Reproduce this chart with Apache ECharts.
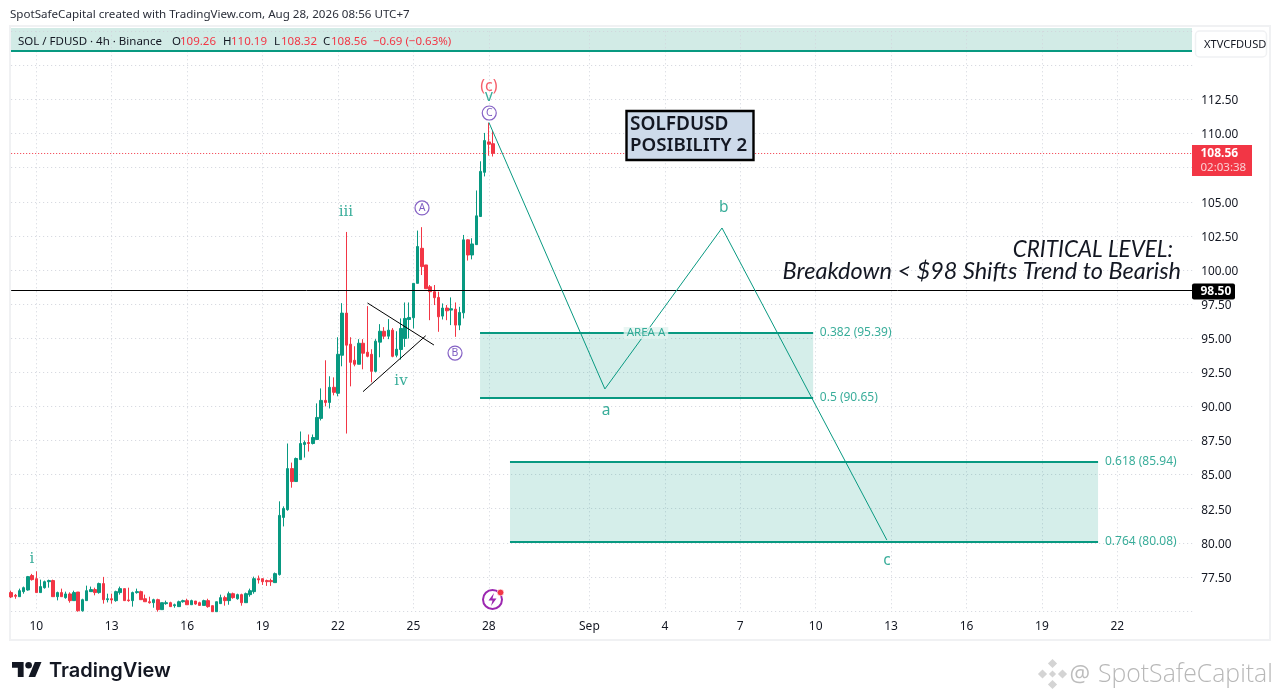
<!DOCTYPE html>
<html><head><meta charset="utf-8">
<style>html,body{margin:0;padding:0;background:#fff}#c{width:1281px;height:700px}</style>
<script src="https://cdn.jsdelivr.net/npm/echarts@6/dist/echarts.min.js"></script>
</head><body><div id="c"></div>
<script>
// Bars are indexed from the 10th of August, 00:00 (4h bars, 6 per day). Rows: open, close, low, high
const firstIndex = -6, lastIndex = 276;
const candles = [
[76.35,76.03,75.95,76.49],[76.15,76.08,75.90,76.25],[76.05,76.49,76.05,76.64],[76.42,76.71,76.27,76.79],
[76.54,77.52,76.49,77.57],[77.60,77.30,77.23,77.72],[77.37,76.35,76.35,77.91],[76.35,76.79,76.35,77.30],
[76.71,77.15,76.64,77.23],[77.15,77.23,76.71,77.30],[77.23,76.05,76.05,77.30],[76.05,76.35,75.78,76.42],
[76.35,76.05,76.05,76.64],[75.98,76.25,75.90,76.42],[76.25,75.76,75.61,76.37],[75.76,76.35,75.76,76.49],
[76.39,75.02,74.95,76.39],[75.02,75.83,74.95,75.90],[75.76,76.49,75.76,76.86],[76.42,76.57,76.42,76.79],
[76.57,76.35,76.15,76.71],[76.35,77.01,76.27,77.08],[77.01,75.83,75.54,77.50],[75.83,75.90,75.63,76.27],
[75.90,75.81,75.54,76.27],[75.76,76.42,75.68,76.49],[76.35,76.64,76.20,76.79],[76.64,75.76,75.76,76.64],
[75.81,75.76,75.68,76.71],[75.76,76.35,75.32,76.42],[76.35,76.42,76.27,76.64],[76.42,75.83,75.83,76.49],
[75.90,75.68,75.68,76.20],[75.68,75.61,75.54,76.05],[75.61,75.83,75.24,75.90],[75.83,75.10,74.95,75.90],
[75.10,75.61,75.10,75.61],[75.54,75.61,75.46,75.76],[75.61,75.32,75.32,75.68],[75.39,75.46,75.24,75.54],
[75.32,75.68,75.32,75.76],[75.68,75.76,75.61,75.83],[75.76,75.46,75.46,75.90],[75.46,75.76,75.46,75.83],
[75.73,75.51,75.46,75.73],[75.61,75.41,75.41,75.68],[75.41,75.76,75.41,75.83],[75.76,75.32,75.24,75.90],
[75.39,74.95,74.95,75.39],[74.95,75.68,74.95,75.68],[75.54,75.98,75.54,76.20],[75.98,75.76,75.39,76.12],
[75.76,76.27,75.46,76.42],[76.27,75.98,75.90,76.35],[75.90,76.20,75.83,76.27],[76.20,75.61,75.39,76.27],
[75.61,76.27,75.61,76.35],[76.20,76.49,76.05,76.64],[76.42,77.37,76.27,77.52],[77.37,77.28,77.01,77.60],
[77.37,77.15,76.91,77.37],[77.23,77.15,76.84,77.30],[77.23,77.15,76.84,77.37],[77.08,77.74,77.08,77.82],
[77.67,82.01,77.60,83.04],[81.86,82.52,81.20,82.67],[82.43,85.44,82.35,87.28],[85.44,84.49,84.04,85.88],
[84.49,86.18,84.49,86.25],[86.10,87.28,86.10,88.16],[87.21,87.35,86.25,87.50],[87.35,87.28,86.69,87.94],
[87.28,87.72,87.21,87.94],[87.57,89.19,87.57,90.22],[89.12,90.44,88.97,91.32],[90.44,90.29,90.00,93.38],
[90.29,91.40,89.85,92.21],[91.40,91.03,90.81,92.13],[90.96,93.82,90.74,95.07],[93.75,96.84,92.94,97.57],
[96.84,94.49,88.01,102.79],[94.56,93.23,91.47,95.07],[93.38,93.09,92.94,94.41],[93.09,94.63,93.09,94.93],
[94.63,93.90,92.72,94.93],[93.97,93.67,93.60,97.35],[93.82,92.57,91.77,94.19],[92.57,94.78,92.50,94.93],
[94.71,95.51,93.60,96.03],[95.51,95.15,94.93,95.81],[95.15,95.59,94.93,96.40],[95.59,93.67,93.60,95.74],
[93.75,94.19,93.60,95.51],[94.17,95.71,93.43,96.45],[94.98,96.45,94.36,97.62],[96.37,96.52,94.98,97.62],
[96.50,99.02,95.71,99.02],[99.02,101.72,99.02,102.89],[101.59,100.25,99.63,103.14],[100.37,98.63,98.63,100.37],
[98.77,98.41,96.32,98.90],[98.41,97.97,97.43,98.90],[97.99,96.57,95.47,98.41],[96.62,97.21,96.37,97.55],
[97.21,97.01,96.32,97.43],[97.06,97.16,95.96,97.99],[97.13,95.96,95.10,97.62],[95.96,96.89,95.59,97.30],
[96.86,102.21,96.45,102.57],[102.21,101.10,100.69,102.25],[101.10,101.91,100.78,102.33],[101.86,103.97,101.86,105.83],
[103.92,107.23,103.92,107.97],[107.16,109.49,106.86,110.05],[109.39,109.22,108.38,110.78],[109.26,108.56,108.32,110.19]
];
const categories = [];
for (let i = firstIndex; i <= lastIndex; i++) categories.push(i);
const dayTicks = {0:'10',18:'13',36:'16',54:'19',72:'22',90:'25',108:'28',132:'Sep',150:'4',168:'7',186:'10',204:'13',222:'16',240:'19',258:'22'};
const lastPrice = 108.56, criticalPrice = 98.50;
const hiddenPriceTicks = [75, 115, 117.5];
const wavePath = [[108.0,110.83],[135.7,91.28],[163.65,103.08],[203.0,80.2]];
const triangleTop = [[79.05,97.58],[94.9,94.50]];
const triangleBottom = [[77.97,91.08],[92.94,95.18]];
const zones = [
  {from:105.9,to:185.4,top:95.39,bottom:90.65,topLabel:'0.382 (95.39)',bottomLabel:'0.5 (90.65)',labelAt:187.0},
  {from:113.05,to:253.4,top:85.94,bottom:80.08,topLabel:'0.618 (85.94)',bottomLabel:'0.764 (80.08)',labelAt:255.05}
];
const serifLabels = [['i',-1.03,78.81],['iii',73.9,104.25],['iv',87.04,91.86]];
const sansLabels = [['a',135.97,89.66],['b',164.1,104.55],['c',203,78.67],['v',108,112.68]];
const cycleLabels = [['A',92.05,104.55],['B',99.93,93.91],['C',108.1,111.51]];

const TEAL='#089981', RED='#f23645', UI='"Noto Sans",sans-serif', ANN='Lato,"Noto Sans",sans-serif';
const fibLabels=[]; const fibLines=[]; const fibAreas=[];
zones.forEach(z=>{
  fibAreas.push([{xAxis:z.from,yAxis:z.top},{xAxis:z.to,yAxis:z.bottom}]);
  fibLines.push([{coord:[z.from,z.top]},{coord:[z.to,z.top]}]);
  fibLines.push([{coord:[z.from,z.bottom]},{coord:[z.to,z.bottom]}]);
  fibLabels.push({value:[z.labelAt,z.top],name:z.topLabel});
  fibLabels.push({value:[z.labelAt,z.bottom],name:z.bottomLabel});
});
const T=(text,x,y,font,fill,extra)=>({type:'text',silent:true,z:20,style:Object.assign({text,x,y,font,fill,textVerticalAlign:'middle'},extra||{})});
const R=(x,y,w,h,fill,extra)=>Object.assign({type:'rect',silent:true,shape:{x,y,width:w,height:h},style:{fill}},extra||{});
const uiFont='11.5px '+UI;
const P=(points,fill,z)=>({type:'polygon',silent:true,z:z||20,shape:{points},style:{fill}});
const diamond=(cx,cy,r,fill)=>P([[cx,cy-r],[cx+r,cy],[cx,cy+r],[cx-r,cy]],fill);

const graphics=[
  R(10,26,1260,614,'none',{z:-5,style:{fill:'none',stroke:'#f0f1f3',lineWidth:2}}),
  R(11,28,1181,23,'#d2ebe6',{z:-4}),
  R(11,50,1181,2,TEAL,{z:5}),
  T('SpotSafeCapital created with TradingView.com, Aug 28, 2026 08:56 UTC+7',10,14.5,'11.6px '+UI,'#2a2e39'),
  T('SOL / FDUSD · 4h · Binance',18,42,uiFont,'#131722'),
  T('O',172,42,uiFont,'#131722'),T('109.26',180,42,uiFont,RED),
  T('H',223,42,uiFont,'#131722'),T('110.19',231,42,uiFont,RED),
  T('L',274,42,uiFont,'#131722'),T('108.32',281,42,uiFont,RED),
  T('C',323,42,uiFont,'#131722'),T('108.56',331,42,uiFont,RED),
  T('−0.69 (−0.63%)',373,42,uiFont,RED),
  {type:'rect',silent:true,z:10,shape:{x:1195.5,y:31,width:71,height:26,r:4},style:{fill:'#fff',stroke:'#f0f1f3',lineWidth:1.5}},
  T('XTVCFDUSD',1204,44.5,'11.1px '+UI,'#131722'),
  R(1192,145,60,31,RED,{z:15}),
  T('108.56',1200.5,154,'bold 12px '+UI,'#fff'),
  T('02:03:38',1200.5,168,'11.5px '+UI,'#fbd0d4'),
  {type:'rect',silent:true,z:15,shape:{x:1192,y:283.5,width:43,height:16,r:2},style:{fill:'#000'}},
  T('98.50',1200.5,292,'bold 12px '+UI,'#fff'),
  {type:'rect',silent:true,z:15,shape:{x:626.5,y:111,width:127,height:49},style:{fill:'#cddaea',stroke:'#000',lineWidth:2.4}},
  T('SOLFDUSD',630,125,'600 19px '+UI,'#131722'),
  T('POSIBILITY 2',630,145.5,'600 18.7px '+UI,'#131722'),
  T('CRITICAL LEVEL:',1173,250,'italic 22.4px '+ANN,'#131722',{textAlign:'right'}),
  T('Breakdown < $98 Shifts Trend to Bearish',1181,271,'italic 23.5px '+ANN,'#131722',{textAlign:'right'}),
  // event marker
  {type:'circle',silent:true,z:20,shape:{cx:492.5,cy:599.5,r:9.5},style:{fill:'#fff',stroke:'#9c27b0',lineWidth:2}},
  P([[494,593],[488.5,600.5],[492.5,600.5],[491,606],[496.5,598.5],[492.5,598.5]],'#9c27b0'),
  {type:'circle',silent:true,z:21,shape:{cx:500.5,cy:592.5,r:3.3},style:{fill:RED,stroke:'#fff',lineWidth:.6}},
  // TradingView wordmark
  P([[23.62,677],[17.81,677],[17.81,667.83],[12,667.83],[12,662],[23.62,662]],'#131722'),
  P([[35.24,677],[28.6,677],[34.83,662],[41.47,662]],'#131722'),
  {type:'circle',silent:true,z:20,shape:{cx:28.6,cy:665.3,r:3.3},style:{fill:'#131722'}},
  T('TradingView',49,670.5,'600 20px Inter,'+UI,'#131722'),
  // repost watermark
  diamond(1052.5,663.5,4.6,'#d4d4d4'),diamond(1042.5,674,4.6,'#d4d4d4'),diamond(1062.5,674,4.6,'#d4d4d4'),diamond(1052.5,684.5,4.6,'#d4d4d4'),diamond(1052.5,674,3.6,'#d4d4d4'),
  T('@',1069.5,675,'23px "Open Sans"','#bdbdbd'),
  T('SpotSafeCapital',1098,675,'300 24.8px "Open Sans"','#b8b8b8')
];

const chart=echarts.init(document.getElementById('c'));
const gridDots={color:'#d1d4dc',type:[1,3],width:1};
chart.setOption({
  animation:false,
  textStyle:{fontFamily:UI},
  grid:{left:11.16,top:31.3,width:1181.6,height:579.7},
  xAxis:[
    {type:'category',data:categories,boundaryGap:false,
     axisLine:{show:false},axisTick:{show:false},
     axisLabel:{margin:9.5,fontSize:12,color:'#131722',fontFamily:UI,
       interval:(i,v)=>dayTicks[v]!==undefined,formatter:v=>dayTicks[v]||''},
     splitLine:{show:true,interval:(i,v)=>dayTicks[categories[i]]!==undefined,lineStyle:gridDots}},
    {type:'value',min:firstIndex,max:lastIndex,show:false,splitLine:{show:false}}
  ],
  yAxis:{type:'value',position:'right',min:75,max:117.5,interval:2.5,scale:true,
    axisLine:{show:false},axisTick:{show:false},
    axisLabel:{margin:8.5,fontSize:11.8,color:'#131722',fontFamily:UI,align:'left',
      rich:{p:{fontSize:11.8,color:'#131722',fontFamily:UI,padding:[3,0,0,0]}},
      formatter:v=>hiddenPriceTicks.includes(v)?'':'{p|'+v.toFixed(2)+'}'},
    splitLine:{show:true,lineStyle:gridDots}},
  series:[
    {type:'candlestick',name:'SOL / FDUSD',xAxisIndex:0,data:candles,barWidth:3,clip:false,z:3,
     itemStyle:{color:TEAL,color0:RED,borderColor:TEAL,borderColor0:RED,borderWidth:1},
     markLine:{silent:true,symbol:'none',animation:false,data:[
       {yAxis:lastPrice,label:{show:false},lineStyle:{color:RED,type:[1,2],width:1}},
       {yAxis:criticalPrice,label:{show:false},lineStyle:{color:'#000',type:'solid',width:1}}
     ]}},
    {type:'line',name:'wave',xAxisIndex:1,data:wavePath,symbol:'none',silent:true,z:6,clip:false,
     lineStyle:{color:TEAL,width:1},
     markArea:{silent:true,itemStyle:{color:'rgba(8,153,129,0.17)'},data:fibAreas},
     markLine:{silent:true,symbol:'none',label:{show:false},lineStyle:{color:TEAL,width:2,type:'solid'},data:fibLines}},
    {type:'line',name:'triangleTop',xAxisIndex:1,data:triangleTop,symbol:'none',silent:true,z:7,lineStyle:{color:'#000',width:1}},
    {type:'line',name:'triangleBottom',xAxisIndex:1,data:triangleBottom,symbol:'none',silent:true,z:7,lineStyle:{color:'#000',width:1}},
    {type:'scatter',name:'wave labels serif',xAxisIndex:1,symbolSize:0,silent:true,z:8,clip:false,
     data:serifLabels.map(d=>({name:d[0],value:[d[1],d[2]]})),
     label:{show:true,position:'inside',formatter:'{b}',color:TEAL,fontSize:15,fontFamily:'"DejaVu Serif","Liberation Serif",serif'}},
    {type:'scatter',name:'wave labels sans',xAxisIndex:1,symbolSize:0,silent:true,z:8,clip:false,
     data:sansLabels.map(d=>({name:d[0],value:[d[1],d[2]]})),
     label:{show:true,position:'inside',formatter:'{b}',color:TEAL,fontSize:15.5,fontFamily:UI}},
    {type:'scatter',name:'corrective labels',xAxisIndex:1,symbol:'circle',symbolSize:14,silent:true,z:8,clip:false,
     data:cycleLabels.map(d=>({name:d[0],value:[d[1],d[2]]})),
     itemStyle:{color:'#fff',borderColor:'#673ab7',borderWidth:1.2},
     label:{show:true,position:'inside',formatter:'{b}',color:'#5e35b1',fontSize:10.5,fontFamily:UI}},
    {type:'scatter',name:'wave c',xAxisIndex:1,symbolSize:0,silent:true,z:8,clip:false,
     data:[{name:'(c)',value:[108,113.49]}],
     label:{show:true,position:'inside',formatter:'{b}',color:RED,fontSize:16,fontFamily:UI}},
    {type:'scatter',name:'fib labels',xAxisIndex:1,symbolSize:0,silent:true,z:8,clip:false,
     data:fibLabels,
     label:{show:true,position:'right',distance:0,formatter:'{b}',color:TEAL,fontSize:12,fontFamily:UI}},
    {type:'scatter',name:'area label',xAxisIndex:1,symbolSize:0,silent:true,z:8,
     data:[{name:'AREA A',value:[145.5,95.39]}],
     label:{show:true,position:'inside',formatter:'{b}',color:TEAL,fontSize:11.5,fontFamily:UI,backgroundColor:'#e4f4f0',padding:[0,3]}}
  ],
  graphic:graphics
});
</script></body></html>
